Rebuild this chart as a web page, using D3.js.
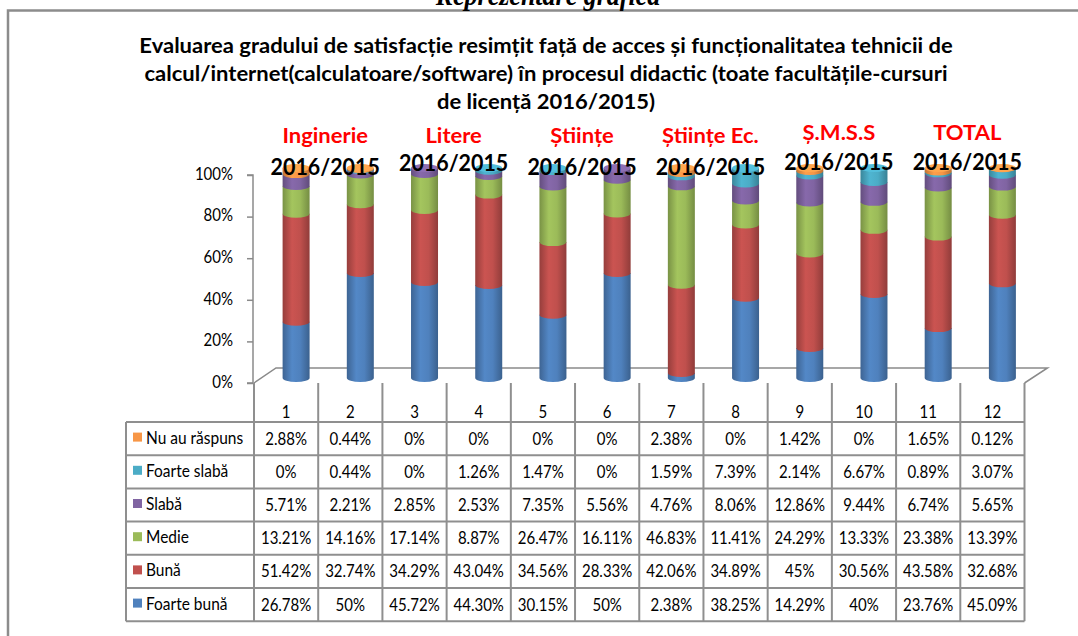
<!DOCTYPE html>
<html>
<head>
<meta charset="utf-8">
<script src="https://cdn.jsdelivr.net/npm/d3@7"></script>
<style>
html,body{margin:0;padding:0;background:#fff;}
svg{display:block;}
</style>
</head>
<body>
<svg id="chart" width="1078" height="636"></svg>
<script>
// ---------------- DATA ----------------
const categories = ["1","2","3","4","5","6","7","8","9","10","11","12"];
const seriesNames = ["Foarte bună","Bună","Medie","Slabă","Foarte slabă","Nu au răspuns"];
const foarteBuna  = [26.78, 50, 45.72, 44.30, 30.15, 50, 2.38, 38.25, 14.29, 40, 23.76, 45.09];
const buna        = [51.42, 32.74, 34.29, 43.04, 34.56, 28.33, 42.06, 34.89, 45, 30.56, 43.58, 32.68];
const medie       = [13.21, 14.16, 17.14, 8.87, 26.47, 16.11, 46.83, 11.41, 24.29, 13.33, 23.38, 13.39];
const slaba       = [5.71, 2.21, 2.85, 2.53, 7.35, 5.56, 4.76, 8.06, 12.86, 9.44, 6.74, 5.65];
const foarteSlaba = [0, 0.44, 0, 1.26, 1.47, 0, 1.59, 7.39, 2.14, 6.67, 0.89, 3.07];
const nuAuRaspuns = [2.88, 0.44, 0, 0, 0, 0, 2.38, 0, 1.42, 0, 1.65, 0.12];
const yTicks = [0, 20, 40, 60, 80, 100];
const groupLabels = ["Inginerie", "Litere", "Științe", "Științe Ec.", "Ș.M.S.S", "TOTAL"];
const periodLabels = ["2016/2015", "2016/2015", "2016/2015", "2016/2015", "2016/2015", "2016/2015"];
const titleLines = [
  "Evaluarea gradului de satisfacție resimțit față de acces și funcționalitatea tehnicii de",
  "calcul/internet(calculatoare/software) în procesul didactic (toate facultățile-cursuri",
  "de licență 2016/2015)"
];
const headingText = "Reprezentare grafică";
const colors = ["#4F81BD", "#C0504D", "#9BBB59", "#8064A2", "#4BACC6", "#F79646"];

// ---------------- LAYOUT ----------------
const seriesValues = [foarteBuna, buna, medie, slaba, foarteSlaba, nuAuRaspuns];
const rows = categories.map((c, i) => {
  const o = {cat: c};
  seriesNames.forEach((s, k) => o[s] = seriesValues[k][i]);
  return o;
});
const stacked = d3.stack().keys(seriesNames)(rows);

const svg = d3.select("#chart");
const defs = svg.append("defs");
const FONT = "Lato, 'Open Sans', sans-serif";
const SY = 1.12;

function addText(parent, str, x, y, o) {
  o = o || {};
  return parent.append("text")
    .attr("transform", `translate(${x},${y}) scale(${o.sx || 1},${o.sy || SY})`)
    .attr("text-anchor", o.anchor || "middle")
    .style("font-family", o.family || FONT)
    .style("font-size", o.size + "px")
    .style("font-weight", o.weight || 400)
    .style("font-style", o.style || "normal")
    .attr("fill", o.fill || "#000")
    .text(str);
}

// frame
svg.append("path").attr("d", "M8,640 L8,10.5 L1080,10.5")
  .attr("fill", "none").attr("stroke", "#8c8c8c").attr("stroke-width", 2.5);

// heading clipped at top
addText(svg, headingText, 548, 5, {size: 26, weight: 700, style: "italic", family: "'Liberation Serif', serif", sy: 1.1});

// title
titleLines.forEach((t, i) => {
  addText(svg, t, 546, 53 + i * 28, {size: 20, weight: 700, sx: 1.1, sy: 1.05});
});

// scales
const x = d3.scaleBand().domain(categories).range([254, 1024.5]);
const yBar = d3.scaleLinear().domain([0, 100]).range([378, 168]);
const yAx = d3.scaleLinear().domain([0, 100]).range([383, 175]);
const depthDx = 10, backDy = 15, backDx = 22;
const barR = 13.5, ellR = 4;
const cx = c => x(c) + x.bandwidth() / 2 + depthDx;

// floor
const grey = "#8a8a8a";
svg.append("path")
  .attr("d", `M${x.range()[0]},${yAx(0)} L${x.range()[0] + backDx},${yAx(0) - backDy} L${x.range()[1] + backDx + 1},${yAx(0) - backDy} L${x.range()[1]},${yAx(0)}`)
  .attr("fill", "none").attr("stroke", grey).attr("stroke-width", 1.5);

// y axis
const axisG = svg.append("g").attr("transform", `translate(${x.range()[0] - 1},0)`);
axisG.call(d3.axisLeft(yAx).tickValues(yTicks).tickSize(6).tickPadding(14).tickFormat(d => d + "%"));
axisG.select(".domain").attr("stroke", grey).attr("stroke-width", 1.5).attr("d", `M-6,${yAx(100)}H0V${yAx(0)}H-6`);
axisG.selectAll(".tick line").attr("stroke", grey).attr("stroke-width", 1.5);
axisG.selectAll(".tick text").style("font-family", FONT).style("font-size", "15px").attr("fill", "#000")
  .attr("dy", null).attr("y", 0)
  .attr("transform", `scale(1,${SY})`).attr("dominant-baseline", "middle");

// gradients
colors.forEach((c, k) => {
  const g = defs.append("linearGradient").attr("id", "grad" + k).attr("x1", 0).attr("x2", 1).attr("y1", 0).attr("y2", 0);
  const base = d3.color(c);
  g.append("stop").attr("offset", "0%").attr("stop-color", base.darker(0.7));
  g.append("stop").attr("offset", "35%").attr("stop-color", base.brighter(0.15));
  g.append("stop").attr("offset", "65%").attr("stop-color", base);
  g.append("stop").attr("offset", "100%").attr("stop-color", base.darker(0.8));
});

// bars
const barsG = svg.append("g");
stacked.forEach((layer, k) => {
  barsG.selectAll(null).data(layer.filter(d => d[1] - d[0] > 0)).enter().append("path")
    .attr("fill", `url(#grad${k})`)
    .attr("d", d => {
      const c = cx(d.data.cat), top = yBar(d[1]), bot = yBar(d[0]);
      return `M${c - barR},${top} L${c - barR},${bot} A${barR},${ellR} 0 0 0 ${c + barR},${bot} L${c + barR},${top} Z`;
    });
});
// top caps
barsG.selectAll(null).data(categories).enter().append("ellipse")
  .attr("cx", d => cx(d))
  .attr("cy", (d, i) => yBar(d3.sum(seriesValues, s => s[i])))
  .attr("rx", barR).attr("ry", ellR)
  .attr("fill", (d, i) => {
    let k = seriesValues.length - 1;
    while (k > 0 && seriesValues[k][i] === 0) k--;
    return d3.color(colors[k]).brighter(0.3);
  });

// group labels
const yearY = [168, 164, 168, 168, 163, 163];
const grpY = [143, 143, 143, 143, 140, 140];
groupLabels.forEach((g, i) => {
  const mid = (cx(categories[2 * i]) + cx(categories[2 * i + 1])) / 2 - 3;
  addText(svg, g, mid, grpY[i], {size: 20, weight: 700, fill: "#FF0000", sx: 1.1, sy: 1.05});
  addText(svg, periodLabels[i], mid, yearY[i] + 7, {size: 21, weight: 700, sx: 1.02, sy: 1.1});
});

// table
const tbl = svg.append("g");
const tTop = yAx(0), hdrBot = 422, rowH = 33.2, legLeft = 126;
const tableRows = seriesNames.slice().reverse();
const tableVals = seriesValues.slice().reverse();
const tableColors = colors.slice().reverse();
const tBot = hdrBot + rowH * tableRows.length;
const fmt = v => (Number.isInteger(v) ? v : v.toFixed(2)) + "%";

// vertical lines
x.domain().forEach(c => {
  tbl.append("line").attr("x1", x(c)).attr("x2", x(c)).attr("y1", tTop).attr("y2", tBot);
});
tbl.append("line").attr("x1", x.range()[1]).attr("x2", x.range()[1]).attr("y1", tTop).attr("y2", tBot);
tbl.append("line").attr("x1", legLeft).attr("x2", legLeft).attr("y1", hdrBot).attr("y2", tBot);
for (let r = 0; r <= tableRows.length; r++) {
  const yy = hdrBot + r * rowH;
  tbl.append("line").attr("x1", legLeft).attr("x2", x.range()[1]).attr("y1", yy).attr("y2", yy);
}
tbl.selectAll("line").attr("stroke", "#8f8f8f").attr("stroke-width", 2);

// header numbers
categories.forEach(c => {
  addText(tbl, c, x(c) + x.bandwidth() / 2, 418, {size: 15});
});
tableRows.forEach((name, r) => {
  const yc = hdrBot + r * rowH + rowH / 2;
  tbl.append("rect").attr("x", 133).attr("y", yc - 6).attr("width", 9).attr("height", 9).attr("fill", tableColors[r]);
  addText(tbl, name, 146, yc + 5, {size: 15.5, anchor: "start"});
  categories.forEach((c, i) => {
    addText(tbl, fmt(tableVals[r][i]), x(c) + x.bandwidth() / 2, yc + 6, {size: 15});
  });
});
</script>
</body>
</html>
